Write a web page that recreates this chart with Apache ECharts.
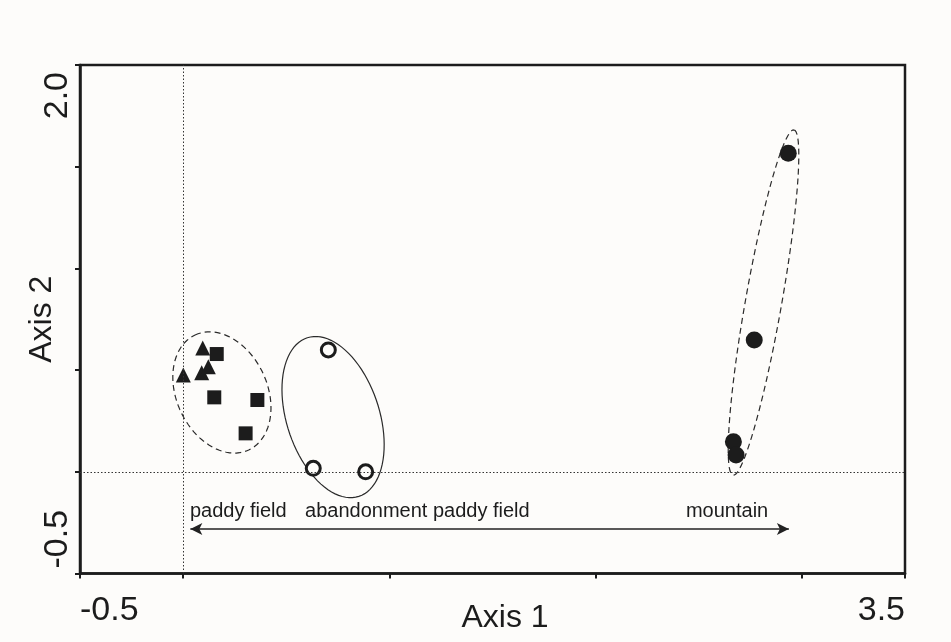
<!DOCTYPE html>
<html>
<head>
<meta charset="utf-8">
<script src="https://cdn.jsdelivr.net/npm/echarts@6/dist/echarts.min.js"></script>
<style>
  html, body { margin: 0; padding: 0; background: #fdfcfa; }
  #chart { width: 951px; height: 642px; }
</style>
</head>
<body>
<div id="chart"></div>
<script>
// sample scores on the two ordination axes
let paddyTriangles = [[0.001, 0.476], [0.095, 0.609], [0.090, 0.487], [0.122, 0.517]];
let paddySquares = [[0.163, 0.579], [0.151, 0.366], [0.360, 0.353], [0.303, 0.189]];
let abandonedPoints = [[0.704, 0.599], [0.631, 0.017], [0.885, 0.000]];
let mountainPoints = [[2.934, 1.566], [2.769, 0.648], [2.668, 0.148], [2.681, 0.083]];

// group ellipses: centre, [major, minor] half axes, tilt from vertical (deg)
let ellipseCenters = [[0.188, 0.390], [0.727, 0.269], [2.814, 0.832]];
let ellipseRadii = [[0.312, 0.220], [0.410, 0.225], [0.862, 0.088]];
let ellipseTilt = [-25, -18, 10];

// gradient arrow and its labels
let arrowEnds = [[0.035, -0.281], [2.937, -0.281]];
let gradientLabels = ['paddy field', 'abandonment paddy field', 'mountain'];
let gradientLabelX = [0.033, 0.591, 2.438];
let gradientLabelY = -0.193;

let xTicks = [-0.5, 0, 1, 2, 3, 3.5];
let xTickLabels = [-0.5, 3.5];
let yTicks = [-0.5, 0, 0.5, 1, 1.5, 2.0];
let yTickLabels = [-0.5, 2.0];

let chart = echarts.init(document.getElementById('chart'));
let font = '"Liberation Sans", Arial, sans-serif';
let ink = '#1c1c1c';
let ellipseDash = [[6, 4], null, [6, 4]];

let ellipseData = ellipseCenters.map((c, i) => [c[0], c[1], ellipseRadii[i][0], ellipseRadii[i][1], ellipseTilt[i]]);

function renderEllipse(params, api) {
  let c = api.coord([api.value(0), api.value(1)]);
  let s = api.size([1, 1]);
  let a = api.value(2) * s[1];
  let b = api.value(3) * s[0];
  let t = api.value(4) * Math.PI / 180;
  let pts = [];
  for (let k = 0; k <= 90; k++) {
    let th = 2 * Math.PI * k / 90;
    let ma = a * Math.cos(th), mi = b * Math.sin(th);
    pts.push([c[0] + ma * Math.sin(t) + mi * Math.cos(t), c[1] - ma * Math.cos(t) + mi * Math.sin(t)]);
  }
  return {
    type: 'polyline',
    shape: { points: pts },
    style: { fill: null, stroke: '#2a2a2a', lineWidth: 1.2, lineDash: ellipseDash[params.dataIndex] }
  };
}

let axisCommon = {
  axisLine: { onZero: false, lineStyle: { color: ink, width: 2.5 } },
  axisTick: { show: true, inside: false, length: 5, lineStyle: { color: ink, width: 2 } },
  splitLine: { show: false },
  nameMoveOverlap: false,
  nameTextStyle: { fontFamily: font, fontSize: 32, color: ink }
};

let option = {
  backgroundColor: '#fdfcfa',
  animation: false,
  grid: {
    left: 80, right: 46, top: 65, bottom: 68.5,
    outerBoundsMode: 'none', containLabel: false,
    show: true, borderColor: ink, borderWidth: 2.5, backgroundColor: 'transparent'
  },
  xAxis: Object.assign({}, axisCommon, {
    type: 'value', min: -0.5, max: 3.5,
    name: 'Axis 1', nameLocation: 'middle', nameGap: 29,
    nameTextStyle: { fontFamily: font, fontSize: 32, color: ink, padding: [0, 0, 0, 25] },
    axisTick: Object.assign({}, axisCommon.axisTick, { customValues: xTicks }),
    axisLabel: {
      customValues: xTickLabels, formatter: v => v.toFixed(1),
      fontFamily: font, fontSize: 34, color: ink, margin: 20,
      alignMinLabel: 'left', alignMaxLabel: 'right', showMinLabel: true, showMaxLabel: true
    }
  }),
  yAxis: Object.assign({}, axisCommon, {
    type: 'value', min: -0.5, max: 2.0,
    name: 'Axis 2', nameLocation: 'middle', nameGap: 22,
    axisTick: Object.assign({}, axisCommon.axisTick, { customValues: yTicks }),
    axisLabel: {
      customValues: yTickLabels, formatter: v => v.toFixed(1), rotate: 90,
      fontFamily: font, fontSize: 34, color: ink, margin: 5, padding: [0, 7, 0, 5],
      alignMinLabel: 'left', alignMaxLabel: 'right', showMinLabel: true, showMaxLabel: true
    }
  }),
  series: [
    {
      type: 'custom', name: 'ellipses', renderItem: renderEllipse, data: ellipseData,
      encode: { x: 0, y: 1 }, silent: true, z: 1
    },
    {
      type: 'scatter', name: 'gradient', data: gradientLabelX.map((x, i) => ({ value: [x, gradientLabelY], name: gradientLabels[i] })),
      symbolSize: 0, silent: true, z: 2, itemStyle: { opacity: 1 },
      label: { show: true, position: 'right', distance: 0, formatter: p => p.name, fontFamily: font, fontSize: 20, color: ink },
      markLine: {
        silent: true, symbol: ['none', 'none'], label: { show: false },
        lineStyle: { color: '#333', type: [1.5, 2], width: 1 },
        data: [{ xAxis: 0 }, { yAxis: 0 }]
      }
    },
    {
      type: 'scatter', name: 'arrow', data: [], silent: true,
      markLine: {
        silent: true, symbol: ['arrow', 'arrow'], symbolSize: [9, 12], label: { show: false },
        lineStyle: { color: '#222', type: 'solid', width: 1.6 },
        data: [[{ coord: arrowEnds[0] }, { coord: arrowEnds[1] }]]
      }
    },
    {
      type: 'scatter', name: 'paddy triangles', data: paddyTriangles, symbol: 'triangle', symbolSize: 15,
      itemStyle: { color: ink, opacity: 1 }, z: 3
    },
    {
      type: 'scatter', name: 'paddy squares', data: paddySquares, symbol: 'rect', symbolSize: 14,
      itemStyle: { color: ink, opacity: 1 }, z: 3
    },
    {
      type: 'scatter', name: 'abandoned', data: abandonedPoints, symbol: 'circle', symbolSize: 14,
      itemStyle: { color: '#fdfcfa', borderColor: ink, borderWidth: 3, opacity: 1 }, z: 3
    },
    {
      type: 'scatter', name: 'mountain', data: mountainPoints, symbol: 'circle', symbolSize: 17,
      itemStyle: { color: ink, opacity: 1 }, z: 3
    }
  ]
};

chart.setOption(option);
</script>
</body>
</html>
